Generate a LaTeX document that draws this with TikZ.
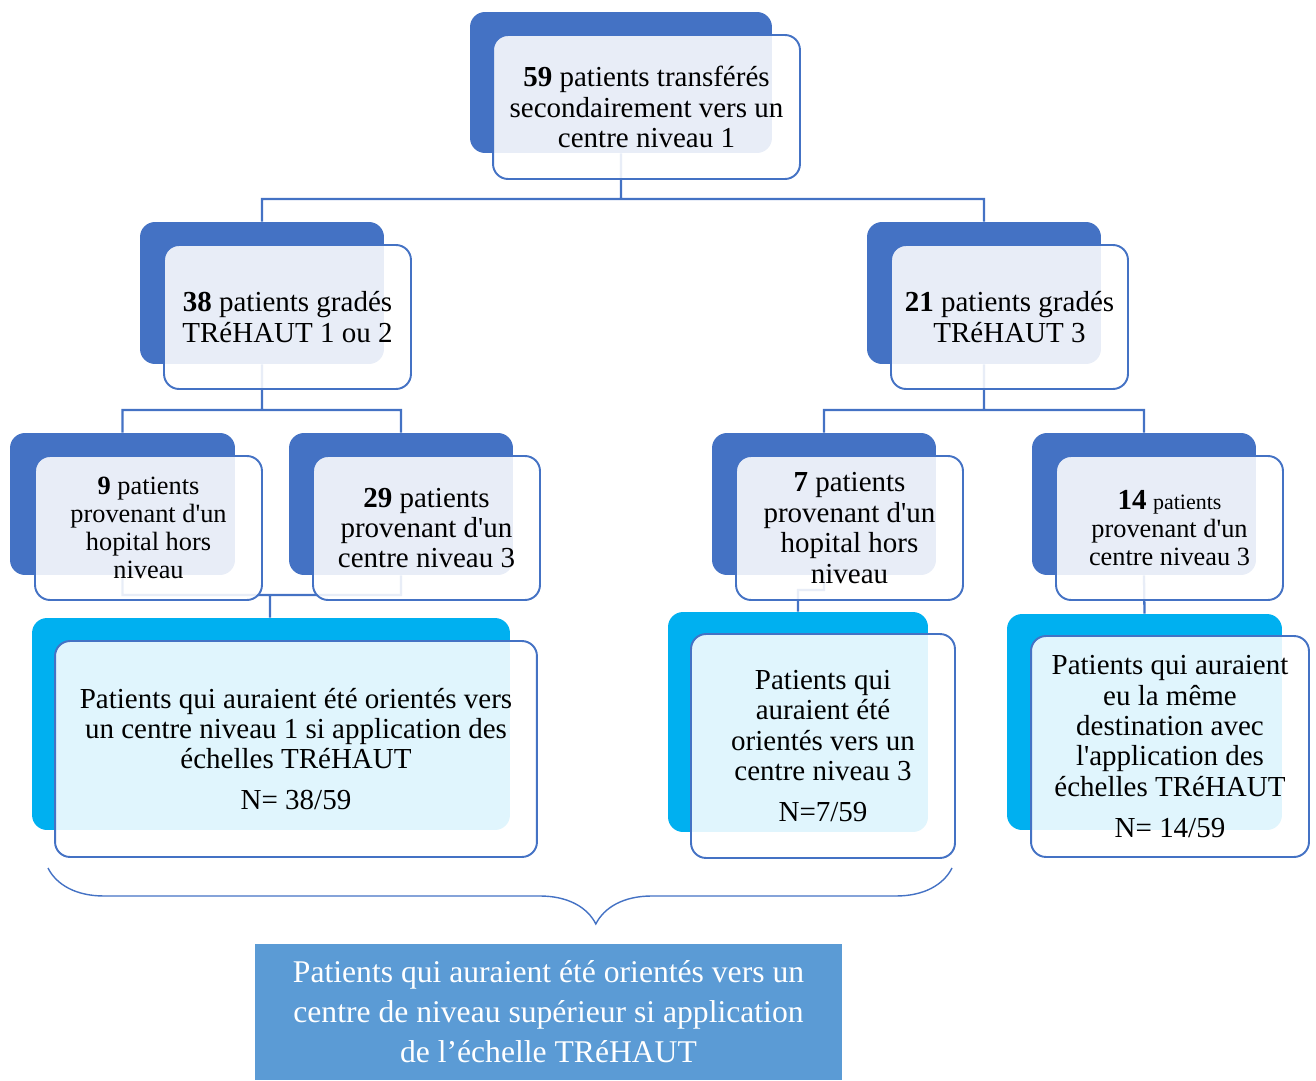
\documentclass[tikz,border=0pt]{standalone}
\usepackage{fontspec}
\setmainfont{Liberation Serif}
\usepackage{xcolor}
\usetikzlibrary{
  calc,
  decorations.pathreplacing
}
\definecolor{cardblue}{HTML}{4472C4}
\definecolor{cardcyan}{HTML}{00B0F0}
\definecolor{notefill}{HTML}{5B9BD5}
\newcommand{\sq}{\textquotesingle}
\tikzset{
  cardback/.style={
    fill=#1,
    rounded corners=0.3cm,
    inner sep=0pt},
  cardfront/.style={
    draw=cardblue,
    line width=1.1pt,
    fill=white,
    fill opacity=0.88,
    text opacity=1,
    rounded corners=0.3cm,
    align=center,
    inner sep=0pt,
    font=\fontsize{16.5}{17.3}\selectfont},
  smalltext/.style={
    font=\fontsize{15}{16}\selectfont},
  link/.style={
    draw=cardblue,
    line width=1.3pt}
  }

\begin{document}
\begin{tikzpicture}[x=0.02cm,y=-0.02cm]
      \useasboundingbox (0,0) rectangle (1316,1081);
      \node[cardback=cardblue, minimum width=6.04cm, minimum height=2.82cm] (topb) at (621,82.5) {};
      \node[cardback=cardblue, minimum width=4.88cm, minimum height=2.84cm] (lb) at (262,293) {};
      \node[cardback=cardblue, minimum width=4.68cm, minimum height=2.84cm] (rb) at (984,293) {};
      \node[cardback=cardblue, minimum width=4.5cm, minimum height=2.84cm] (ab) at (122.5,504) {};
      \node[cardback=cardblue, minimum width=4.48cm, minimum height=2.84cm] (bb) at (401,504) {};
      \node[cardback=cardblue, minimum width=4.48cm, minimum height=2.84cm] (cb) at (824,504) {};
      \node[cardback=cardblue, minimum width=4.48cm, minimum height=2.84cm] (db) at (1144,504) {};
      \node[cardback=cardcyan, minimum width=9.56cm, minimum height=4.24cm] (eb) at (271,724) {};
      \node[cardback=cardcyan, minimum width=5.2cm, minimum height=4.4cm] (fb) at (798,722) {};
      \node[cardback=cardcyan, minimum width=5.5cm, minimum height=4.32cm] (gb) at (1144.5,722) {};
      \coordinate (j0) at (621,199);
      \coordinate (j1) at (262,410);
      \coordinate (j2) at (984,410);
      \coordinate (j3) at (270,595);
      \coordinate (j4) at (824,590);
      \draw [link]
      (topb.south) -- (j0) -| (lb.north)
      (j0) -| (rb.north)
      (lb.south) -- (j1) -| (ab.north)
      (j1) -| (bb.north)
      (rb.south) -- (j2) -| (cb.north)
      (j2) -| (db.north)
      (ab.south) |- (j3) -| (bb.south)
      (j3) -- (eb.north-|j3)
      (cb.south) -- (j4) -| (fb.north)
      (db.south) -- (gb.north);
      \node[cardfront, minimum width=6.14cm, minimum height=2.88cm] (top) at (646.5,107)
        {\textbf{59} patients transférés\\secondairement vers un\\centre niveau 1};
      \node[cardfront, minimum width=4.94cm, minimum height=2.88cm] (l) at (287.5,317)
        {\textbf{38} patients gradés\\TRéHAUT 1 ou 2};
      \node[cardfront, minimum width=4.74cm, minimum height=2.88cm] (r) at (1009.5,317)
        {\textbf{21} patients gradés\\TRéHAUT 3};
      \node[cardfront, smalltext, minimum width=4.54cm, minimum height=2.88cm] (a) at (148.5,528)
        {\textbf{9} patients\\provenant d\sq un\\hopital hors\\niveau};
      \node[cardfront, minimum width=4.54cm, minimum height=2.88cm] (b) at (426.5,528)
        {\textbf{29} patients\\provenant d\sq un\\centre niveau 3};
      \node[cardfront, minimum width=4.54cm, minimum height=2.88cm] (c) at (849.5,528)
        {\textbf{7} patients\\provenant d\sq un\\hopital hors\\niveau};
      \node[cardfront, smalltext, minimum width=4.54cm, minimum height=2.88cm] (d) at (1169.5,528)
        {\textbf{\fontsize{16.5}{16}\selectfont 14} {\fontsize{12.5}{16}\selectfont patients}\\provenant d\sq un\\centre niveau 3};
      \node[cardfront, minimum width=9.64cm, minimum height=4.32cm] (e) at (296,749)
        {Patients qui auraient été orientés vers\\un centre niveau 1 si application des\\échelles TRéHAUT\\[6pt]N= 38/59};
      \node[cardfront, minimum width=5.28cm, minimum height=4.48cm] (f) at (823,746)
        {Patients qui\\auraient été\\orientés vers un\\centre niveau 3\\[6pt]N=7/59};
      \node[cardfront, minimum width=5.56cm, minimum height=4.42cm] (g) at (1170,746.5)
        {Patients qui auraient\\eu la même\\destination avec\\l\sq application des\\échelles TRéHAUT\\[6pt]N= 14/59};
      \coordinate (bl) at (48,868);
      \coordinate (br) at (952,868);
      \draw [cardblue, line width=0.8pt, decorate, decoration={brace, amplitude=1.12cm, aspect=0.394}]
      (br) -- (bl);
      \node[fill=notefill, text=white, align=center, inner sep=0pt, minimum width=11.74cm, minimum height=2.72cm,
        font=\fontsize{18}{22.8}\selectfont] (note) at (548.5,1012)
        {Patients qui auraient été orientés vers un\\centre de niveau supérieur si application\\de l’échelle TRéHAUT};
    \end{tikzpicture}
\end{document}
